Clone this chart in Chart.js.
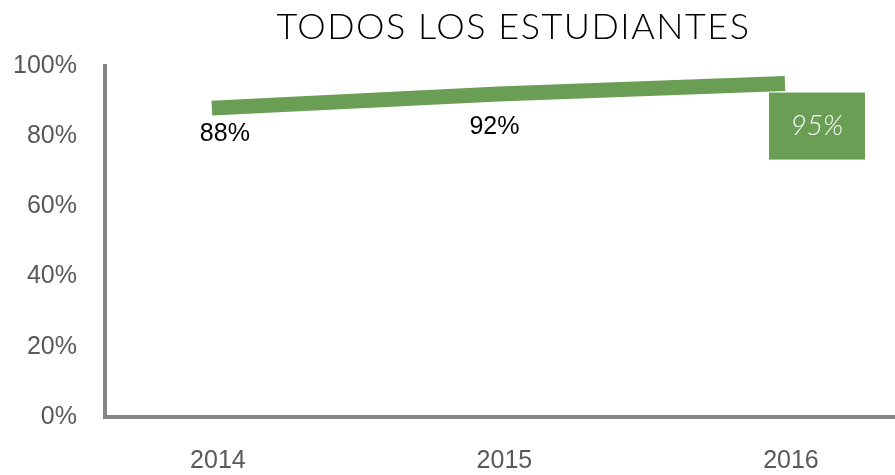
<!DOCTYPE html>
<html>
<head>
<meta charset="utf-8">
<script src="https://cdn.jsdelivr.net/npm/chart.js@4/dist/chart.umd.min.js"></script>
<style>
html,body{margin:0;padding:0;background:#fff;}
#wrap{width:895px;height:475px;position:relative;}
</style>
</head>
<body>
<div id="wrap"><canvas id="c"></canvas></div>
<script>
const chartTitle = 'TODOS LOS ESTUDIANTES';
const categories = ['2014', '2015', '2016'];
const values = [88, 92, 95];
const valueLabels = ['88%', '92%', '95%'];
const yTickValues = [0, 20, 40, 60, 80, 100];

const GREEN = '#6a9e55';
const AXIS = '#848484';
const TICK = '#595959';

const titlePlugin = {
  id: 'customTitle',
  afterDraw(chart) {
    const ctx = chart.ctx;
    const ca = chart.chartArea;
    ctx.save();
    ctx.fillStyle = '#000';
    ctx.font = '300 36px Lato';
    if ('letterSpacing' in ctx) ctx.letterSpacing = '1.5px';
    ctx.textAlign = 'center';
    ctx.textBaseline = 'middle';
    ctx.fillText(chartTitle, ca.left + (ca.right - ca.left) * 0.517, 27);
    ctx.restore();
  }
};

const labelPlugin = {
  id: 'valueLabels',
  beforeDatasetsDraw(chart) {
    const ctx = chart.ctx;
    const meta = chart.getDatasetMeta(0);
    const offs = [[13, 26], [-4, 33], [32, 42]];
    ctx.save();
    meta.data.forEach((pt, i) => {
      const x = pt.x + offs[i][0];
      const y = pt.y + offs[i][1];
      ctx.textAlign = 'center';
      ctx.textBaseline = 'middle';
      if (i === values.length - 1) {
        ctx.fillStyle = GREEN;
        ctx.fillRect(x - 48, y - 33, 96, 67);
        ctx.fillStyle = '#fff';
        ctx.font = 'italic 300 28px Lato';
        ctx.fillText(valueLabels[i], x, y);
      } else {
        ctx.fillStyle = '#000';
        ctx.font = '25px "Liberation Sans", Arial, sans-serif';
        ctx.fillText(valueLabels[i], x, y);
      }
    });
    ctx.restore();
  }
};

new Chart(document.getElementById('c'), {
  type: 'line',
  data: {
    datasets: [{
      data: categories.map((c, i) => ({ x: Number(c), y: values[i] })),
      borderColor: GREEN,
      backgroundColor: GREEN,
      borderWidth: 15,
      borderCapStyle: 'butt',
      borderJoinStyle: 'miter',
      pointRadius: 0,
      pointHoverRadius: 0,
      tension: 0,
      fill: false
    }]
  },
  options: {
    responsive: true,
    maintainAspectRatio: false,
    animation: false,
    devicePixelRatio: 1,
    layout: { padding: { top: 66, right: 0, left: 0, bottom: 0 } },
    plugins: {
      legend: { display: false },
      title: { display: false },
      tooltip: { enabled: false }
    },
    scales: {
      x: {
        type: 'linear',
        min: 2013.627,
        max: 2016.384,
        grid: { display: false, drawTicks: false },
        border: { display: true, color: AXIS, width: 4 },
        afterBuildTicks: s => { s.ticks = categories.map(c => ({ value: Number(c) })); },
        afterFit: s => { s.height = 58; },
        ticks: {
          color: TICK,
          font: { family: '"Liberation Sans", Arial, sans-serif', size: 25 },
          padding: 29,
          labelOffset: 6,
          maxRotation: 0,
          autoSkip: false,
          callback: v => String(v)
        }
      },
      y: {
        min: 0,
        max: 100,
        grid: { display: false, drawTicks: false },
        border: { display: true, color: AXIS, width: 4 },
        afterBuildTicks: s => { s.ticks = yTickValues.map(v => ({ value: v })); },
        afterFit: s => { s.width = 105; },
        ticks: {
          color: TICK,
          font: { family: '"Liberation Sans", Arial, sans-serif', size: 25 },
          padding: 28,
          callback: v => v + '%'
        }
      }
    }
  },
  plugins: [titlePlugin, labelPlugin]
});
</script>
</body>
</html>
